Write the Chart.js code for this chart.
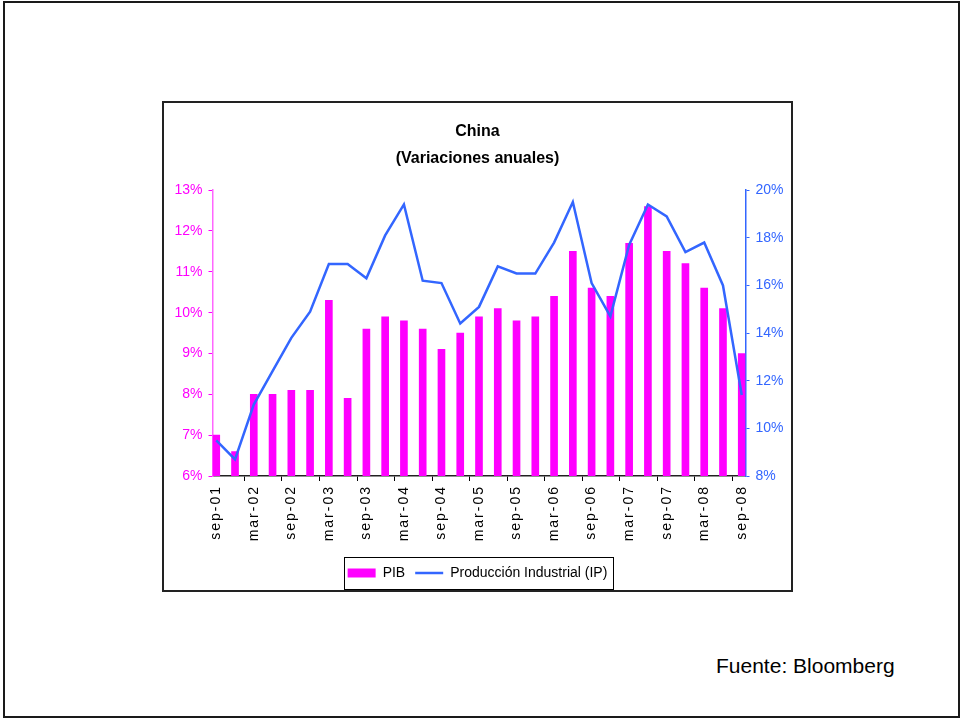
<!DOCTYPE html>
<html>
<head>
<meta charset="utf-8">
<script src="https://cdn.jsdelivr.net/npm/chart.js@4/dist/chart.umd.min.js"></script>
<style>
  body { margin: 0; background: #fff; }
  #frame { position: absolute; left: 3px; top: 1px; width: 953px; height: 713px; border: 2px solid #1a1a1a; }
  #box { position: absolute; left: 162px; top: 101px; width: 627px; height: 487px; border: 2px solid #222; }
  #chart { position: absolute; left: 164px; top: 103px; }
  #source { position: absolute; left: 716px; top: 654px; font: 21px/24px 'Liberation Sans', Arial, sans-serif; color: #000; }
</style>
</head>
<body>
<div id="frame"></div>
<div id="box"></div>
<canvas id="chart" width="627" height="487"></canvas>
<div id="source">Fuente: Bloomberg</div>
<script>
// quarterly data, sep-01 .. sep-08 (annual % change)
const categories = ['sep-01', 'dic-01', 'mar-02', 'jun-02', 'sep-02', 'dic-02', 'mar-03', 'jun-03',
  'sep-03', 'dic-03', 'mar-04', 'jun-04', 'sep-04', 'dic-04', 'mar-05', 'jun-05', 'sep-05', 'dic-05',
  'mar-06', 'jun-06', 'sep-06', 'dic-06', 'mar-07', 'jun-07', 'sep-07', 'dic-07', 'mar-08', 'jun-08', 'sep-08'];
const pib = [7.0, 6.6, 8.0, 8.0, 8.1, 8.1, 10.3, 7.9, 9.6, 9.9, 9.8, 9.6, 9.1, 9.5, 9.9, 10.1, 9.8, 9.9,
  10.4, 11.5, 10.6, 10.4, 11.7, 12.6, 11.5, 11.2, 10.6, 10.1, 9.0];
const ip = [9.5, 8.7, 11.0, 12.4, 13.8, 14.9, 16.9, 16.9, 16.3, 18.1, 19.4, 16.2, 16.1, 14.4, 15.1, 16.8,
  16.5, 16.5, 17.8, 19.5, 16.1, 14.7, 17.7, 19.4, 18.9, 17.4, 17.8, 16.0, 11.4];
const leftTicks = { min: 6, max: 13, step: 1 };
const rightTicks = { min: 8, max: 20, step: 2 };

const SANS = "'Liberation Sans', Arial, sans-serif";
const PINK = '#ff00ff';
const BLUE = '#3366ff';

// box around the legend, like the excel one
const legendFrame = {
  id: 'legendFrame',
  afterDraw(chart) {
    const hb = chart.legend.legendHitBoxes;
    if (!hb || !hb.length) return;
    const a = hb[0], b = hb[hb.length - 1];
    const c = chart.ctx;
    c.save();
    c.strokeStyle = '#000';
    c.lineWidth = 1;
    c.strokeRect(Math.round(a.left - 4) + 0.5, Math.round(a.top - 9) + 0.5,
      Math.round(b.left + b.width - a.left + 9), Math.round(a.height + 18));
    c.restore();
  }
};

// spaced out date labels
const spacedX = {
  id: 'spacedX',
  afterLayout(chart) {
    const s = chart.scales.x;
    if (s._spaced) return;
    const draw = s.drawLabels;
    s.drawLabels = function (area) {
      chart.ctx.save();
      chart.ctx.letterSpacing = '2px';
      draw.call(this, area);
      chart.ctx.restore();
    };
    s._spaced = true;
  }
};

const ctx = document.getElementById('chart').getContext('2d');
new Chart(ctx, {
  type: 'bar',
  data: {
    labels: categories,
    datasets: [{
      label: 'PIB',
      data: pib,
      backgroundColor: PINK,
      borderWidth: 0,
      barThickness: 7,
      yAxisID: 'y',
      order: 1
    }, {
      type: 'line',
      label: 'Producción Industrial (IP)',
      data: ip,
      borderColor: BLUE,
      backgroundColor: BLUE,
      borderWidth: 2.5,
      pointRadius: 0,
      tension: 0,
      yAxisID: 'y1',
      order: 0
    }]
  },
  options: {
    responsive: false,
    animation: false,
    devicePixelRatio: 1,
    layout: { padding: 0 },
    plugins: {
      tooltip: { enabled: false },
      title: {
        display: true,
        text: ['China', '(Variaciones anuales)'],
        color: '#000',
        font: { family: SANS, size: 16, weight: 'bold', lineHeight: 1.63 },
        padding: { top: 16, bottom: 19 }
      },
      legend: {
        position: 'bottom',
        labels: {
          color: '#000',
          font: { family: SANS, size: 14 },
          usePointStyle: true,
          pointStyleWidth: 28,
          boxWidth: 28,
          boxHeight: 9,
          padding: 10,
          sort: (a, b) => a.datasetIndex - b.datasetIndex,
          generateLabels(chart) {
            return Chart.defaults.plugins.legend.labels.generateLabels(chart).map(item => {
              item.pointStyle = item.datasetIndex === 0 ? 'rect' : 'line';
              return item;
            });
          }
        }
      }
    },
    scales: {
      x: {
        offset: false,
        afterBuildTicks(s) { s._startValue = -0.2; s._valueRange = 28.4; },
        afterFit(s) { s.height = 80; },
        border: { color: '#222', width: 1.5 },
        grid: {
          drawOnChartArea: false,
          tickLength: 5,
          color: c => c.index % 2 ? 'rgba(0,0,0,0)' : '#000'
        },
        ticks: {
          autoSkip: false,
          minRotation: 90,
          maxRotation: 90,
          padding: 4,
          color: '#000',
          font: { family: SANS, size: 14 },
          callback(v, i) { return i % 2 ? '' : this.getLabelForValue(v); }
        }
      },
      y: {
        position: 'left',
        min: leftTicks.min,
        max: leftTicks.max,
        afterFit(s) { s.width = 48.5; },
        border: { color: '#ff66ff', width: 1.5 },
        grid: { drawOnChartArea: false, tickLength: 4, color: PINK },
        ticks: {
          stepSize: leftTicks.step,
          padding: 6,
          color: PINK,
          font: { family: SANS, size: 14 },
          callback: v => v + '%'
        }
      },
      y1: {
        position: 'right',
        min: rightTicks.min,
        max: rightTicks.max,
        afterFit(s) { s.width = 45.5; },
        border: { color: BLUE, width: 1.5 },
        grid: { drawOnChartArea: false, tickLength: 4, color: BLUE },
        ticks: {
          stepSize: rightTicks.step,
          padding: 6,
          color: BLUE,
          font: { family: SANS, size: 14 },
          callback: v => v + '%'
        }
      }
    }
  },
  plugins: [legendFrame, spacedX]
});
</script>
</body>
</html>
